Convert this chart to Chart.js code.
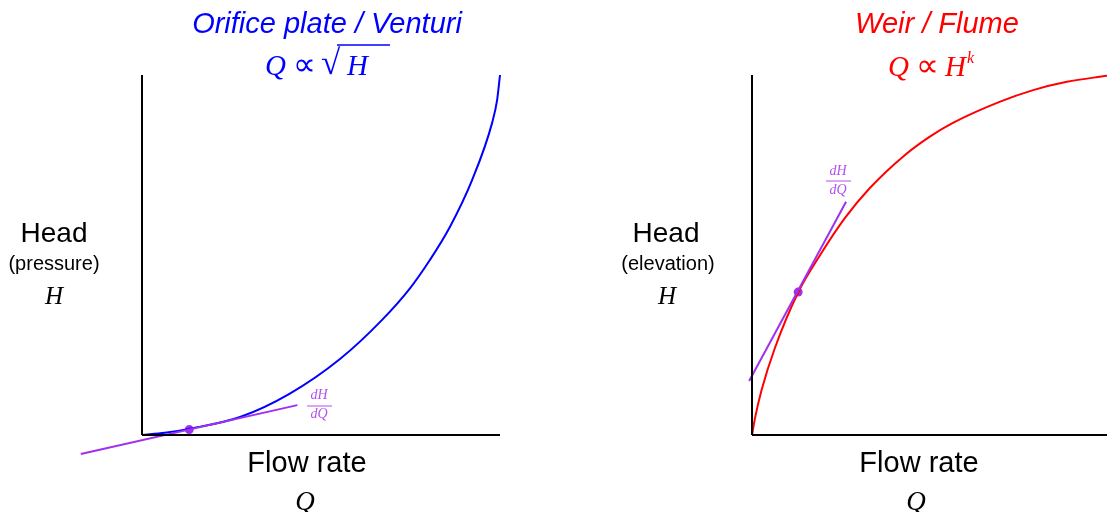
<!DOCTYPE html>
<html>
<head>
<meta charset="utf-8">
<script src="https://cdn.jsdelivr.net/npm/chart.js@4"></script>
<style>
  body { margin: 0; background: #fff; }
  #wrap { position: relative; width: 1107px; height: 512px; }
  canvas { position: absolute; top: 0; }
  #left { left: 0; }
  #right { left: 553px; }
</style>
</head>
<body>
<div id="wrap">
  <canvas id="left" width="553" height="512"></canvas>
  <canvas id="right" width="554" height="512"></canvas>
</div>
<script>
// normalised flow Q (0..1) and head H (0..1)
const orificeQ = [0, 0.064, 0.131, 0.274, 0.413, 0.553, 0.670, 0.749, 0.804, 0.860, 0.922, 0.978, 0.992, 1.0];
const orificeH = [0, 0.006, 0.017, 0.050, 0.115, 0.211, 0.319, 0.408, 0.486, 0.578, 0.708, 0.867, 0.931, 1.0];
const orificeTangentQ = [-0.171, 0.434];
const orificeTangentH = [-0.053, 0.083];
const orificePoint = [0.132, 0.015];

const weirQ = [0, 0.0085, 0.027, 0.065, 0.130, 0.192, 0.262, 0.332, 0.431, 0.501, 0.566, 0.699, 0.792, 0.887, 1.0];
const weirH = [0, 0.047, 0.125, 0.243, 0.396, 0.500, 0.603, 0.686, 0.778, 0.829, 0.867, 0.926, 0.958, 0.981, 0.998];
const weirTangentQ = [-0.008, 0.265];
const weirTangentH = [0.150, 0.648];
const weirPoint = [0.130, 0.397];

const purple = '#a030f0';
const purpleText = '#b050ee';
const sans = '"Liberation Sans", Arial, sans-serif';
const serif = '"Liberation Serif", "Times New Roman", serif';

function pts(xs, ys) {
  return xs.map((x, i) => ({ x: x, y: ys[i] }));
}

function line(data, color, width, smooth) {
  return {
    data: data,
    showLine: true,
    borderColor: color,
    borderWidth: width,
    pointRadius: 0,
    fill: false,
    cubicInterpolationMode: smooth ? 'monotone' : 'default'
  };
}

const textPlugin = {
  id: 'texts',
  afterDraw(chart) {
    const cfg = chart.options.plugins.texts;
    if (!cfg) return;
    const ctx = chart.ctx;
    ctx.save();
    cfg.items.forEach(t => {
      ctx.font = t.font;
      ctx.fillStyle = t.color;
      ctx.textAlign = t.align || 'center';
      ctx.textBaseline = 'alphabetic';
      ctx.fillText(t.text, t.x, t.y);
    });
    cfg.bars.forEach(b => {
      ctx.strokeStyle = b.color;
      ctx.lineWidth = b.width;
      ctx.beginPath();
      ctx.moveTo(b.x1, b.y);
      ctx.lineTo(b.x2, b.y);
      ctx.stroke();
    });
    ctx.restore();
  }
};

function makeChart(id, curveQ, curveH, color, tq, th, dot, xmin, xmax, texts) {
  return new Chart(document.getElementById(id), {
    type: 'scatter',
    data: {
      datasets: [
        line(pts([0, 0], [0, 1]), '#000', 2, false),
        line(pts([0, 1], [0, 0]), '#000', 2, false),
        line(pts(tq, th), purple, 2, false),
        line(pts(curveQ, curveH), color, 2, true),
        {
          data: [{ x: dot[0], y: dot[1] }],
          pointRadius: 4.5,
          pointBackgroundColor: purple,
          pointBorderWidth: 0,
          showLine: false
        }
      ]
    },
    options: {
      responsive: false,
      animation: false,
      layout: { padding: 0, autoPadding: false },
      scales: {
        x: { type: 'linear', display: false, min: xmin, max: xmax },
        y: { type: 'linear', display: false, min: -0.21389, max: 1.20833 }
      },
      plugins: {
        legend: { display: false },
        tooltip: { enabled: false },
        texts: texts
      }
    },
    plugins: [textPlugin]
  });
}

makeChart('left', orificeQ, orificeH, '#0000ff', orificeTangentQ, orificeTangentH, orificePoint,
  -0.39665, 1.14804, {
    items: [
      { text: 'Orifice plate / Venturi', x: 327, y: 33, font: 'italic 29px ' + sans, color: '#0000ff' },
      { text: 'Q', x: 265, y: 75, align: 'left', font: 'italic 29px ' + serif, color: '#0000ff' },
      { text: '\u221D', x: 293, y: 75, align: 'left', font: '32px ' + serif, color: '#0000ff' },
      { text: '\u221A', x: 321, y: 74, align: 'left', font: '35px ' + serif, color: '#0000ff' },
      { text: 'H', x: 347, y: 75, align: 'left', font: 'italic 29px ' + serif, color: '#0000ff' },
      { text: 'Head', x: 54, y: 242, font: '28px ' + sans, color: '#000' },
      { text: '(pressure)', x: 54, y: 270, font: '20px ' + sans, color: '#000' },
      { text: 'H', x: 54, y: 304, font: 'italic 25px ' + serif, color: '#000' },
      { text: 'Flow rate', x: 307, y: 472, font: '29px ' + sans, color: '#000' },
      { text: 'Q', x: 305, y: 510, font: 'italic 27px ' + serif, color: '#000' },
      { text: 'dH', x: 319, y: 399, font: 'italic 14px ' + serif, color: purpleText },
      { text: 'dQ', x: 319, y: 418, font: 'italic 14px ' + serif, color: purpleText }
    ],
    bars: [
      { x1: 337, x2: 390, y: 45, width: 1.5, color: '#0000ff' },
      { x1: 307, x2: 332, y: 406, width: 1, color: purpleText }
    ]
  });

makeChart('right', weirQ, weirH, '#ff0000', weirTangentQ, weirTangentH, weirPoint,
  -0.56056, 1.0, {
    items: [
      { text: 'Weir / Flume', x: 384, y: 33, font: 'italic 29px ' + sans, color: '#ff0000' },
      { text: 'Q', x: 335, y: 76, align: 'left', font: 'italic 29px ' + serif, color: '#ff0000' },
      { text: '\u221D', x: 363, y: 76, align: 'left', font: '32px ' + serif, color: '#ff0000' },
      { text: 'H', x: 392, y: 76, align: 'left', font: 'italic 29px ' + serif, color: '#ff0000' },
      { text: 'k', x: 414, y: 63, align: 'left', font: 'italic 16px ' + serif, color: '#ff0000' },
      { text: 'Head', x: 113, y: 242, font: '28px ' + sans, color: '#000' },
      { text: '(elevation)', x: 115, y: 270, font: '20px ' + sans, color: '#000' },
      { text: 'H', x: 114, y: 304, font: 'italic 25px ' + serif, color: '#000' },
      { text: 'Flow rate', x: 366, y: 472, font: '29px ' + sans, color: '#000' },
      { text: 'Q', x: 363, y: 510, font: 'italic 27px ' + serif, color: '#000' },
      { text: 'dH', x: 285, y: 175, font: 'italic 14px ' + serif, color: purpleText },
      { text: 'dQ', x: 285, y: 194, font: 'italic 14px ' + serif, color: purpleText }
    ],
    bars: [
      { x1: 273, x2: 298, y: 181, width: 1, color: purpleText }
    ]
  });
</script>
</body>
</html>
